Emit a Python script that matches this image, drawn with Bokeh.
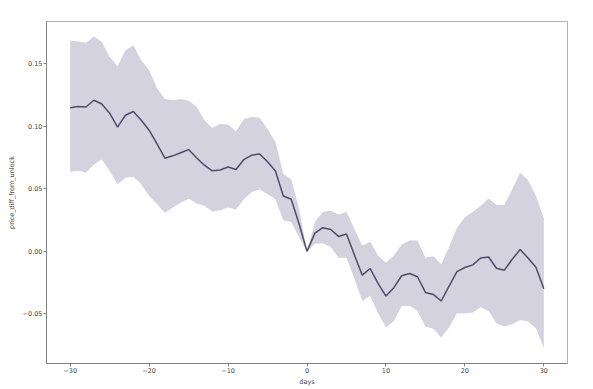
from bokeh.plotting import figure
from bokeh.models import FixedTicker, Range1d
from bokeh.embed import file_html
from bokeh.resources import INLINE

days = list(range(-30, 31))

mean_diff = [0.115, 0.116, 0.1156, 0.121, 0.118, 0.1106, 0.0995, 0.109, 0.112, 0.105,
             0.097, 0.086, 0.0746, 0.0765, 0.079, 0.0815, 0.075, 0.069, 0.0645, 0.0652,
             0.0675, 0.0656, 0.0735, 0.077, 0.078, 0.0717, 0.0643, 0.0444, 0.0418, 0.022,
             0.0,
             0.0146, 0.019, 0.0175, 0.012, 0.014, -0.0026, -0.019, -0.0137, -0.0256, -0.0357,
             -0.029, -0.0195, -0.0177, -0.0203, -0.0328, -0.0344, -0.0397, -0.0278, -0.0162, -0.0129,
             -0.0108, -0.0053, -0.0045, -0.0135, -0.015, -0.0063, 0.0016, -0.0053, -0.0127, -0.0298]

upper_ci = [0.1688, 0.168, 0.167, 0.172, 0.1678, 0.1556, 0.148, 0.161, 0.165, 0.153,
            0.145, 0.1305, 0.122, 0.121, 0.122, 0.1205, 0.116, 0.105, 0.0987, 0.102,
            0.1015, 0.096, 0.106, 0.1075, 0.107, 0.098, 0.0875, 0.062, 0.0577, 0.034,
            0.0,
            0.0233, 0.0315, 0.0325, 0.0295, 0.0317, 0.018, 0.0045, 0.0078, -0.0032, -0.009,
            -0.0032, 0.0056, 0.0087, 0.0087, -0.005, -0.0038, -0.0102, 0.0035, 0.019, 0.0273,
            0.0315, 0.0365, 0.0424, 0.0372, 0.0372, 0.0498, 0.063, 0.0571, 0.0444, 0.0265]

lower_ci = [0.0635, 0.0648, 0.063, 0.0696, 0.0736, 0.0643, 0.0537, 0.059, 0.0598, 0.0537,
            0.0444, 0.0379, 0.0307, 0.0352, 0.039, 0.0424, 0.0383, 0.0365, 0.032, 0.033,
            0.0352, 0.0335, 0.0418, 0.0476, 0.0498, 0.0458, 0.0418, 0.025, 0.0235, 0.0114,
            0.0,
            0.0061, 0.0066, 0.0035, -0.005, -0.005, -0.0217, -0.0397, -0.0354, -0.0495, -0.0606,
            -0.0556, -0.0437, -0.0437, -0.0476, -0.06, -0.0619, -0.0688, -0.0608, -0.0495, -0.0497,
            -0.0489, -0.0447, -0.0476, -0.0574, -0.06, -0.0582, -0.0548, -0.056, -0.0614, -0.0772]

x_ticks = [-30, -20, -10, 0, 10, 20, 30]
x_tick_labels = ["\u221230", "\u221220", "\u221210", "0", "10", "20", "30"]
y_ticks = [-0.05, 0.0, 0.05, 0.10, 0.15]
y_tick_labels = ["\u22120.05", "0.00", "0.05", "0.10", "0.15"]

FONT = "DejaVu Sans"

p = figure(width=588, height=388, output_backend="svg", toolbar_location=None,
           x_range=Range1d(-33, 33), y_range=Range1d(-0.0897, 0.184),
           min_border_left=46, min_border_right=21, min_border_top=21, min_border_bottom=22)

p.varea(x=days, y1=lower_ci, y2=upper_ci, fill_color="#d3d2de", fill_alpha=1.0)
p.line(x=days, y=mean_diff, line_color="#4f4b6b", line_width=1.5)

p.xgrid.visible = False
p.ygrid.visible = False
p.outline_line_color = "#b0b0b0"
p.outline_line_width = 1
p.background_fill_color = "white"
p.border_fill_color = "white"

p.xaxis.ticker = FixedTicker(ticks=x_ticks)
p.xaxis.major_label_overrides = {t: l for t, l in zip(x_ticks, x_tick_labels)}
p.yaxis.ticker = FixedTicker(ticks=y_ticks)
p.yaxis.major_label_overrides = {t: l for t, l in zip(y_ticks, y_tick_labels)}

p.xaxis.axis_label = "days"
p.yaxis.axis_label = "price_diff_from_unlock"

for ax in (p.xaxis, p.yaxis):
    ax.axis_line_color = "#808080"
    ax.major_tick_line_color = "#808080"
    ax.minor_tick_line_color = None
    ax.major_tick_out = 3
    ax.major_tick_in = 0
    ax.major_label_text_font = FONT
    ax.major_label_text_font_size = "6.5px"
    ax.major_label_text_color = "#444444"
    ax.axis_label_text_font = FONT
    ax.axis_label_text_font_size = "6.5px"
    ax.axis_label_text_font_style = "normal"
    ax.axis_label_text_color = "#444444"

p.xaxis.major_label_standoff = 1
p.xaxis.axis_label_standoff = 2
p.yaxis.major_label_standoff = 1
p.yaxis.axis_label_standoff = 4

open("out.html", "w").write(file_html(p, INLINE))
